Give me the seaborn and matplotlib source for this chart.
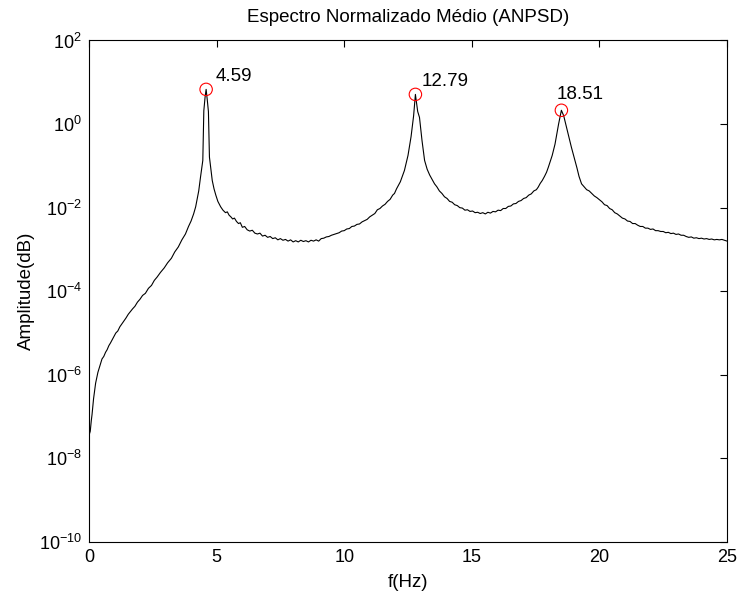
import numpy as np
import pandas as pd
import matplotlib
matplotlib.use("Agg")
import matplotlib.pyplot as plt
import seaborn as sns

# ---- data (frequency in Hz, log10 of amplitude) ----
freq_hz = [0.00, 0.05, 0.09, 0.12, 0.18, 0.26, 0.35, 0.43,
           0.51, 0.58, 0.65, 0.71, 0.78, 0.84, 0.90, 0.97, 1.05, 1.13, 1.21, 1.30,
           1.38, 1.45, 1.54, 1.62, 1.71, 1.80, 1.90, 2.00, 2.10, 2.21, 2.33, 2.45,
           2.56, 2.67, 2.80, 2.95, 3.08, 3.23, 3.36, 3.50, 3.64, 3.78, 3.90, 4.00,
           4.10, 4.18, 4.30, 4.37, 4.46, 4.50, 4.55, 4.59, 4.64, 4.68, 4.72,
           4.83, 4.90, 4.97, 5.05,
           5.16, 5.25, 5.35, 5.42, 5.49, 5.56, 5.63, 5.70, 5.78, 5.86, 5.93, 6.01,
           6.10, 6.20, 6.30, 6.40, 6.50, 6.60, 6.70, 6.80, 6.90, 7.00, 7.10, 7.20,
           7.30, 7.40, 7.50, 7.60, 7.70, 7.80, 7.90, 8.00, 8.10, 8.20, 8.30, 8.40,
           8.50, 8.60, 8.70, 8.80, 8.90, 9.00, 9.10, 9.20, 9.30, 9.40, 9.50, 9.60,
           9.70, 9.80, 9.90, 10.00, 10.10, 10.20, 10.30, 10.40, 10.50, 10.60, 10.70,
           10.80, 10.90, 11.00, 11.10, 11.20, 11.30, 11.40, 11.50, 11.60, 11.70,
           11.80, 11.90, 11.97, 12.05, 12.12, 12.20,
           12.36, 12.50, 12.62, 12.72, 12.79, 12.88, 12.95, 13.05,
           13.15, 13.25, 13.35, 13.45, 13.54, 13.63, 13.73, 13.83, 13.93, 14.03,
           14.13, 14.23, 14.33, 14.43, 14.53, 14.63, 14.73, 14.83, 14.93, 15.03,
           15.13, 15.23, 15.33, 15.43, 15.53, 15.63, 15.73, 15.83, 15.93, 16.03,
           16.13, 16.23, 16.33, 16.43, 16.53, 16.63, 16.73, 16.83, 16.93, 17.03,
           17.13, 17.23, 17.33, 17.43, 17.53, 17.60, 17.68, 17.76, 17.85, 17.93,
           18.00, 18.15, 18.26, 18.40, 18.51, 18.60, 18.70, 18.78, 18.90, 19.04,
           19.12, 19.20,
           19.30, 19.40, 19.50, 19.60, 19.70, 19.80, 19.90, 20.00, 20.10, 20.20,
           20.30, 20.40, 20.50, 20.60, 20.70, 20.80, 20.90, 21.00, 21.10, 21.20,
           21.30, 21.40, 21.50, 21.60, 21.70, 21.80, 21.90, 22.00, 22.10, 22.20,
           22.30, 22.40, 22.50, 22.60, 22.70, 22.80, 22.90, 23.00, 23.10, 23.20,
           23.30, 23.40, 23.50, 23.60, 23.70, 23.80, 23.90, 24.00, 24.10, 24.20,
           24.30, 24.40, 24.50, 24.60, 24.70, 24.80, 24.90, 25.00]
log10_amp = [-7.45, -7.35, -7.10, -6.95, -6.57, -6.20, -5.94, -5.78,
             -5.62, -5.56, -5.46, -5.40, -5.30, -5.24, -5.17, -5.09, -5.00, -4.95, -4.85, -4.77,
             -4.70, -4.64, -4.55, -4.49, -4.42, -4.36, -4.26, -4.19, -4.10, -4.05, -3.93, -3.86,
             -3.74, -3.66, -3.55, -3.44, -3.32, -3.21, -3.06, -2.94, -2.77, -2.63, -2.45, -2.32,
             -2.15, -1.98, -1.60, -1.27, -0.87, 0.32, 0.65, 0.83, 0.55, 0.30, -0.79,
             -1.35, -1.55, -1.70, -1.85,
             -1.98, -2.06, -2.12, -2.10, -2.18, -2.22, -2.27, -2.25, -2.33, -2.38, -2.36, -2.47,
             -2.45, -2.53, -2.56, -2.54, -2.61, -2.63, -2.61, -2.68, -2.66, -2.71, -2.69, -2.74,
             -2.72, -2.77, -2.74, -2.78, -2.76, -2.80, -2.77, -2.82, -2.79, -2.82, -2.78, -2.81,
             -2.79, -2.82, -2.78, -2.80, -2.77, -2.80, -2.74, -2.73, -2.70, -2.69, -2.66, -2.64,
             -2.62, -2.60, -2.56, -2.55, -2.51, -2.50, -2.45, -2.44, -2.40, -2.39, -2.34,
             -2.31, -2.28, -2.22, -2.18, -2.14, -2.05, -2.02, -1.96, -1.92, -1.85,
             -1.80, -1.70, -1.66, -1.55, -1.47, -1.38,
             -1.11, -0.75, -0.30, 0.20, 0.71, 0.30, 0.16, -0.40,
             -0.87, -1.08, -1.22, -1.33, -1.43, -1.50, -1.60, -1.66, -1.74, -1.78,
             -1.85, -1.87, -1.93, -1.95, -2.00, -2.01, -2.06, -2.05, -2.09, -2.08,
             -2.12, -2.11, -2.14, -2.12, -2.15, -2.11, -2.13, -2.09, -2.10, -2.06,
             -2.07, -2.02, -2.02, -1.97, -1.96, -1.91, -1.90, -1.85, -1.83, -1.78,
             -1.76, -1.70, -1.67, -1.60, -1.57, -1.51, -1.42, -1.35, -1.25, -1.15,
             -1.03, -0.75, -0.48, 0.00, 0.33, 0.20, -0.05, -0.24, -0.55, -0.87,
             -1.05, -1.25,
             -1.43, -1.50, -1.57, -1.60, -1.66, -1.72, -1.76, -1.81, -1.86, -1.93,
             -1.95, -2.02, -2.05, -2.12, -2.15, -2.20, -2.25, -2.27, -2.32, -2.33,
             -2.38, -2.38, -2.42, -2.45, -2.45, -2.49, -2.49, -2.52, -2.51, -2.55,
             -2.55, -2.57, -2.57, -2.60, -2.59, -2.62, -2.61, -2.64, -2.63, -2.66,
             -2.66, -2.69, -2.71, -2.70, -2.73, -2.72, -2.74, -2.73, -2.75, -2.74,
             -2.76, -2.75, -2.77, -2.76, -2.77, -2.76, -2.78, -2.80]

peak_freq = [4.59, 12.79, 18.51]
peak_log10_amp = [0.83, 0.71, 0.33]
peak_labels = ["4.59", "12.79", "18.51"]
label_offsets_px = [(10, 13), (6, 13), (-5, 16)]

x_ticks = [0, 5, 10, 15, 20, 25]
y_ticks = [1e-10, 1e-8, 1e-6, 1e-4, 1e-2, 1e0, 1e2]

spectrum = pd.DataFrame({"f": freq_hz, "amp": 10.0 ** np.array(log10_amp)})
peaks = pd.DataFrame({"f": peak_freq, "amp": 10.0 ** np.array(peak_log10_amp)})

sns.set_style("white")
plt.rcParams["font.family"] = ["Liberation Sans", "DejaVu Sans"]
plt.rcParams["mathtext.fontset"] = "custom"
plt.rcParams["mathtext.rm"] = "Liberation Sans"
plt.rcParams["mathtext.it"] = "Liberation Sans"
plt.rcParams["text.color"] = "black"
plt.rcParams["axes.labelcolor"] = "black"

fig = plt.figure(figsize=(7.39, 5.98), dpi=100)
ax = fig.add_axes([0.1204, 0.0936, 0.9838 - 0.1204, 0.9323 - 0.0936])

sns.lineplot(data=spectrum, x="f", y="amp", ax=ax, color="black", linewidth=0.8,
             sort=False, estimator=None)
sns.scatterplot(data=peaks, x="f", y="amp", ax=ax, s=80, marker="o",
                facecolor="none", edgecolor="red", linewidth=0.8, zorder=5)

for fx, lv, lab, off in zip(peak_freq, peak_log10_amp, peak_labels, label_offsets_px):
    ax.annotate(lab, xy=(fx, 10.0 ** lv), xytext=off, textcoords="offset pixels",
                ha="left", va="center", fontsize=13.5, color="black")

ax.set_yscale("log")
ax.set_xlim(0, 25)
ax.set_ylim(1e-10, 1e2)
ax.set_xticks(x_ticks)
ax.set_yticks(y_ticks)
ax.minorticks_off()
ax.tick_params(direction="in", length=5, width=0.8, top=True, right=True,
               labelsize=13, pad=5, colors="black")
for sp in ax.spines.values():
    sp.set_visible(True)
    sp.set_color("black")
    sp.set_linewidth(0.8)

ax.set_title("Espectro Normalizado Médio (ANPSD)", fontsize=13.5, pad=13, color="black")
ax.set_xlabel("f(Hz)", fontsize=13.5, labelpad=6)
ax.set_ylabel("Amplitude(dB)", fontsize=13.5, labelpad=3)

fig.savefig("out.png", dpi=100)
